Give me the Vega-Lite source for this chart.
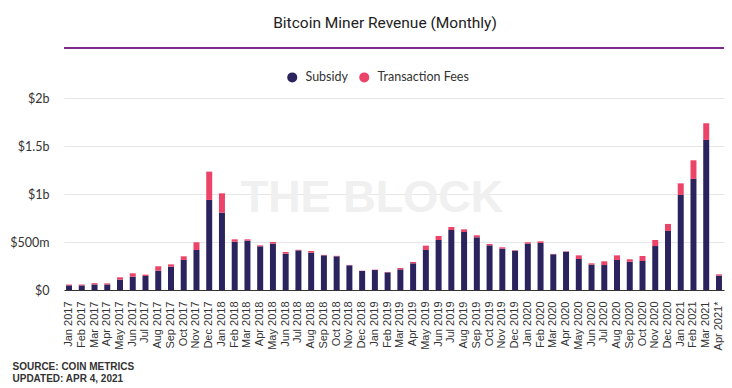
{
  "$schema": "https://vega.github.io/schema/vega-lite/v6.json",
  "width": 660,
  "height": 192,
  "autosize": {"type": "none"},
  "padding": {"left": 64, "top": 98, "right": 8, "bottom": 98},
  "background": "#ffffff",
  "title": {
    "text": "Bitcoin Miner Revenue (Monthly)",
    "font": "Roboto",
    "fontSize": 15.5,
    "fontWeight": 400,
    "color": "#222222",
    "anchor": "middle",
    "frame": "group",
    "dx": -9,
    "dy": -12
  },
  "config": {
    "view": {"stroke": null},
    "font": "Lato",
    "axis": {"labelColor": "#333333", "gridColor": "#e6e6e6", "grid": true}
  },
  "data": {
    "values": [
      {"month": "Jan 2017", "series": "Subsidy", "value": 48}, {"month": "Jan 2017", "series": "Transaction Fees", "value": 9},
      {"month": "Feb 2017", "series": "Subsidy", "value": 48}, {"month": "Feb 2017", "series": "Transaction Fees", "value": 9},
      {"month": "Mar 2017", "series": "Subsidy", "value": 58}, {"month": "Mar 2017", "series": "Transaction Fees", "value": 13},
      {"month": "Apr 2017", "series": "Subsidy", "value": 58}, {"month": "Apr 2017", "series": "Transaction Fees", "value": 11},
      {"month": "May 2017", "series": "Subsidy", "value": 108}, {"month": "May 2017", "series": "Transaction Fees", "value": 24},
      {"month": "Jun 2017", "series": "Subsidy", "value": 139}, {"month": "Jun 2017", "series": "Transaction Fees", "value": 35},
      {"month": "Jul 2017", "series": "Subsidy", "value": 146}, {"month": "Jul 2017", "series": "Transaction Fees", "value": 14},
      {"month": "Aug 2017", "series": "Subsidy", "value": 201}, {"month": "Aug 2017", "series": "Transaction Fees", "value": 46},
      {"month": "Sep 2017", "series": "Subsidy", "value": 243}, {"month": "Sep 2017", "series": "Transaction Fees", "value": 24},
      {"month": "Oct 2017", "series": "Subsidy", "value": 313}, {"month": "Oct 2017", "series": "Transaction Fees", "value": 38},
      {"month": "Nov 2017", "series": "Subsidy", "value": 417}, {"month": "Nov 2017", "series": "Transaction Fees", "value": 80},
      {"month": "Dec 2017", "series": "Subsidy", "value": 938}, {"month": "Dec 2017", "series": "Transaction Fees", "value": 295},
      {"month": "Jan 2018", "series": "Subsidy", "value": 806}, {"month": "Jan 2018", "series": "Transaction Fees", "value": 201},
      {"month": "Feb 2018", "series": "Subsidy", "value": 503}, {"month": "Feb 2018", "series": "Transaction Fees", "value": 25},
      {"month": "Mar 2018", "series": "Subsidy", "value": 514}, {"month": "Mar 2018", "series": "Transaction Fees", "value": 14},
      {"month": "Apr 2018", "series": "Subsidy", "value": 455}, {"month": "Apr 2018", "series": "Transaction Fees", "value": 10},
      {"month": "May 2018", "series": "Subsidy", "value": 483}, {"month": "May 2018", "series": "Transaction Fees", "value": 17},
      {"month": "Jun 2018", "series": "Subsidy", "value": 378}, {"month": "Jun 2018", "series": "Transaction Fees", "value": 18},
      {"month": "Jul 2018", "series": "Subsidy", "value": 413}, {"month": "Jul 2018", "series": "Transaction Fees", "value": 6},
      {"month": "Aug 2018", "series": "Subsidy", "value": 389}, {"month": "Aug 2018", "series": "Transaction Fees", "value": 17},
      {"month": "Sep 2018", "series": "Subsidy", "value": 361}, {"month": "Sep 2018", "series": "Transaction Fees", "value": 5},
      {"month": "Oct 2018", "series": "Subsidy", "value": 351}, {"month": "Oct 2018", "series": "Transaction Fees", "value": 5},
      {"month": "Nov 2018", "series": "Subsidy", "value": 257}, {"month": "Nov 2018", "series": "Transaction Fees", "value": 4},
      {"month": "Dec 2018", "series": "Subsidy", "value": 198}, {"month": "Dec 2018", "series": "Transaction Fees", "value": 3},
      {"month": "Jan 2019", "series": "Subsidy", "value": 208}, {"month": "Jan 2019", "series": "Transaction Fees", "value": 4},
      {"month": "Feb 2019", "series": "Subsidy", "value": 184}, {"month": "Feb 2019", "series": "Transaction Fees", "value": 4},
      {"month": "Mar 2019", "series": "Subsidy", "value": 215}, {"month": "Mar 2019", "series": "Transaction Fees", "value": 14},
      {"month": "Apr 2019", "series": "Subsidy", "value": 278}, {"month": "Apr 2019", "series": "Transaction Fees", "value": 14},
      {"month": "May 2019", "series": "Subsidy", "value": 417}, {"month": "May 2019", "series": "Transaction Fees", "value": 45},
      {"month": "Jun 2019", "series": "Subsidy", "value": 521}, {"month": "Jun 2019", "series": "Transaction Fees", "value": 42},
      {"month": "Jul 2019", "series": "Subsidy", "value": 625}, {"month": "Jul 2019", "series": "Transaction Fees", "value": 31},
      {"month": "Aug 2019", "series": "Subsidy", "value": 604}, {"month": "Aug 2019", "series": "Transaction Fees", "value": 28},
      {"month": "Sep 2019", "series": "Subsidy", "value": 549}, {"month": "Sep 2019", "series": "Transaction Fees", "value": 21},
      {"month": "Oct 2019", "series": "Subsidy", "value": 465}, {"month": "Oct 2019", "series": "Transaction Fees", "value": 14},
      {"month": "Nov 2019", "series": "Subsidy", "value": 431}, {"month": "Nov 2019", "series": "Transaction Fees", "value": 14},
      {"month": "Dec 2019", "series": "Subsidy", "value": 410}, {"month": "Dec 2019", "series": "Transaction Fees", "value": 4},
      {"month": "Jan 2020", "series": "Subsidy", "value": 483}, {"month": "Jan 2020", "series": "Transaction Fees", "value": 14},
      {"month": "Feb 2020", "series": "Subsidy", "value": 490}, {"month": "Feb 2020", "series": "Transaction Fees", "value": 17},
      {"month": "Mar 2020", "series": "Subsidy", "value": 372}, {"month": "Mar 2020", "series": "Transaction Fees", "value": 4},
      {"month": "Apr 2020", "series": "Subsidy", "value": 399}, {"month": "Apr 2020", "series": "Transaction Fees", "value": 4},
      {"month": "May 2020", "series": "Subsidy", "value": 323}, {"month": "May 2020", "series": "Transaction Fees", "value": 38},
      {"month": "Jun 2020", "series": "Subsidy", "value": 264}, {"month": "Jun 2020", "series": "Transaction Fees", "value": 14},
      {"month": "Jul 2020", "series": "Subsidy", "value": 260}, {"month": "Jul 2020", "series": "Transaction Fees", "value": 39},
      {"month": "Aug 2020", "series": "Subsidy", "value": 313}, {"month": "Aug 2020", "series": "Transaction Fees", "value": 48},
      {"month": "Sep 2020", "series": "Subsidy", "value": 295}, {"month": "Sep 2020", "series": "Transaction Fees", "value": 25},
      {"month": "Oct 2020", "series": "Subsidy", "value": 302}, {"month": "Oct 2020", "series": "Transaction Fees", "value": 52},
      {"month": "Nov 2020", "series": "Subsidy", "value": 458}, {"month": "Nov 2020", "series": "Transaction Fees", "value": 63},
      {"month": "Dec 2020", "series": "Subsidy", "value": 615}, {"month": "Dec 2020", "series": "Transaction Fees", "value": 73},
      {"month": "Jan 2021", "series": "Subsidy", "value": 990}, {"month": "Jan 2021", "series": "Transaction Fees", "value": 121},
      {"month": "Feb 2021", "series": "Subsidy", "value": 1157}, {"month": "Feb 2021", "series": "Transaction Fees", "value": 194},
      {"month": "Mar 2021", "series": "Subsidy", "value": 1563}, {"month": "Mar 2021", "series": "Transaction Fees", "value": 174},
      {"month": "Apr 2021*", "series": "Subsidy", "value": 149}, {"month": "Apr 2021*", "series": "Transaction Fees", "value": 14}
    ]
  },
  "layer": [
    {
      "data": {"values": [{"label": "THE BLOCK"}]},
      "mark": {"type": "text", "font": "Liberation Sans", "fontSize": 45, "fontWeight": "bold", "color": "#f0f0f0", "align": "center", "baseline": "middle"},
      "encoding": {
        "text": {"field": "label", "type": "nominal"},
        "x": {"datum": "Jan 2019", "type": "nominal", "bandPosition": 0},
        "y": {"datum": 960, "type": "quantitative"}
      }
    },
    {
      "mark": {"type": "bar"},
      "encoding": {
        "x": {
          "field": "month",
          "type": "nominal",
          "sort": null,
          "scale": {
            "domain": ["Jan 2017", "Feb 2017", "Mar 2017", "Apr 2017", "May 2017", "Jun 2017", "Jul 2017", "Aug 2017", "Sep 2017", "Oct 2017", "Nov 2017", "Dec 2017",
                       "Jan 2018", "Feb 2018", "Mar 2018", "Apr 2018", "May 2018", "Jun 2018", "Jul 2018", "Aug 2018", "Sep 2018", "Oct 2018", "Nov 2018", "Dec 2018",
                       "Jan 2019", "Feb 2019", "Mar 2019", "Apr 2019", "May 2019", "Jun 2019", "Jul 2019", "Aug 2019", "Sep 2019", "Oct 2019", "Nov 2019", "Dec 2019",
                       "Jan 2020", "Feb 2020", "Mar 2020", "Apr 2020", "May 2020", "Jun 2020", "Jul 2020", "Aug 2020", "Sep 2020", "Oct 2020", "Nov 2020", "Dec 2020",
                       "Jan 2021", "Feb 2021", "Mar 2021", "Apr 2021*"],
            "paddingInner": 0.53,
            "paddingOuter": 0.16
          },
          "axis": {
            "labelAngle": -90,
            "labelFont": "Liberation Sans",
            "labelFontSize": 11,
            "labelColor": "#333333",
            "labelPadding": 11,
            "ticks": false,
            "grid": false,
            "domainColor": "#333333",
            "domainWidth": 1.2,
            "title": ["SOURCE: COIN METRICS", "UPDATED: APR 4, 2021"],
            "titleFont": "Liberation Sans",
            "titleFontSize": 10,
            "titleFontWeight": "bold",
            "titleColor": "#333333",
            "titleAlign": "left",
            "titleAnchor": "start",
            "titleBaseline": "alphabetic",
            "titleX": -52,
            "titleY": 79,
            "titleLineHeight": 12
          }
        },
        "y": {
          "field": "value",
          "type": "quantitative",
          "stack": "zero",
          "scale": {"domain": [0, 2000], "nice": false},
          "axis": {
            "title": null,
            "values": [0, 500, 1000, 1500, 2000],
            "labelExpr": "datum.value == 0 ? '$0' : datum.value >= 1000 ? '$' + (datum.value / 1000) + 'b' : '$' + datum.value + 'm'",
            "labelFont": "Lato",
            "labelFontSize": 12.5,
            "labelColor": "#333333",
            "labelPadding": 15,
            "ticks": false,
            "domain": false,
            "gridColor": "#e6e6e6"
          }
        },
        "order": {"field": "series", "sort": "ascending"},
        "color": {
          "field": "series",
          "type": "nominal",
          "scale": {"domain": ["Subsidy", "Transaction Fees"], "range": ["#2a235e", "#ec4468"]},
          "legend": {
            "title": null,
            "orient": "none",
            "direction": "horizontal",
            "legendX": 222,
            "legendY": -27,
            "symbolType": "circle",
            "symbolSize": 100,
            "symbolStrokeWidth": 0,
            "labelFont": "Lato",
            "labelFontSize": 12.5,
            "labelColor": "#333333",
            "labelOffset": 7,
            "columnPadding": 10,
            "padding": 0
          }
        }
      }
    },
    {
      "mark": {"type": "rule", "color": "#7b2b88", "strokeWidth": 1.5},
      "encoding": {
        "y": {"datum": 2518, "type": "quantitative"}
      }
    }
  ]
}
